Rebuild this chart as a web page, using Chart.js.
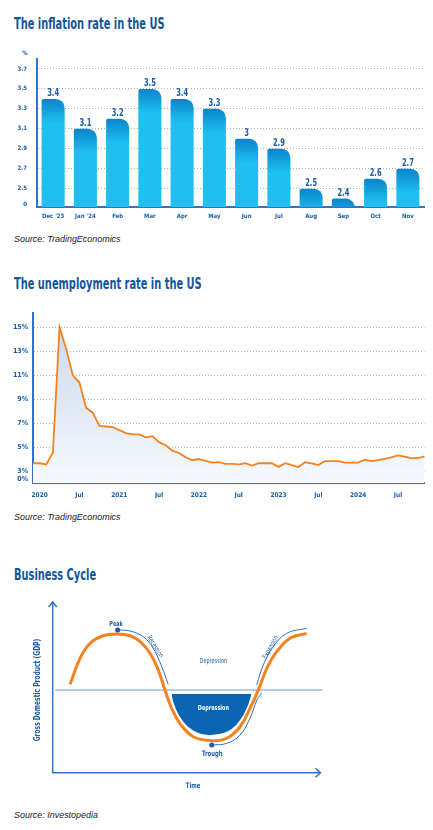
<!DOCTYPE html>
<html>
<head>
<meta charset="utf-8">
<script src="https://cdn.jsdelivr.net/npm/chart.js@4.4.1/dist/chart.umd.min.js"></script>
<style>
body { margin:0; width:433px; height:830px; background:#fff; position:relative; overflow:hidden; }
.title { position:absolute; left:14px; font-family:"Liberation Sans Narrow","DejaVu Sans Condensed",sans-serif; font-weight:bold; font-size:15px; line-height:15px; color:#13559a; white-space:nowrap; transform:scaleX(0.73); transform-origin:left top; }
.src { position:absolute; left:14px; font-family:"Liberation Sans",sans-serif; font-style:italic; font-size:9.5px; line-height:10px; color:#222; white-space:nowrap; transform:scaleX(0.94); transform-origin:left top; }
.box { position:absolute; left:0; width:433px; }
</style>
</head>
<body>
<div class="title" style="top:16.5px">The inflation rate in the US</div>
<div class="box" style="top:40px;height:190px"><canvas id="chart1"></canvas></div>
<div class="src" style="top:233.5px">Source: TradingEconomics</div>

<div class="title" style="top:276.5px">The unemployment rate in the US</div>
<div class="box" style="top:300px;height:210px"><canvas id="chart2"></canvas></div>
<div class="src" style="top:511.5px">Source: TradingEconomics</div>

<div class="title" style="top:568px">Business Cycle</div>
<div class="box" style="top:590px;height:205px"><canvas id="chart3"></canvas></div>
<div class="src" style="top:809.5px">Source: Investopedia</div>

<script>
// ---- inflation data
var inflationMonths = ["Dec '23", "Jan '24", "Feb", "Mar", "Apr", "May", "Jun", "Jul", "Aug", "Sep", "Oct", "Nov"];
var inflationRates = [3.4, 3.1, 3.2, 3.5, 3.4, 3.3, 3.0, 2.9, 2.5, 2.4, 2.6, 2.7];
var inflationTicks = [2.34, 2.5, 2.7, 2.9, 3.1, 3.3, 3.5, 3.7];
var inflationTickLabels = ["0", "2.5", "2.7", "2.9", "3.1", "3.3", "3.5", "3.7"];

// ---- unemployment data (Dec 2019 .. Nov 2024)
var unempMonths = [
  "Dec 2019",
  "Jan 2020","Feb 2020","Mar 2020","Apr 2020","May 2020","Jun 2020","Jul 2020","Aug 2020","Sep 2020","Oct 2020","Nov 2020","Dec 2020",
  "Jan 2021","Feb 2021","Mar 2021","Apr 2021","May 2021","Jun 2021","Jul 2021","Aug 2021","Sep 2021","Oct 2021","Nov 2021","Dec 2021",
  "Jan 2022","Feb 2022","Mar 2022","Apr 2022","May 2022","Jun 2022","Jul 2022","Aug 2022","Sep 2022","Oct 2022","Nov 2022","Dec 2022",
  "Jan 2023","Feb 2023","Mar 2023","Apr 2023","May 2023","Jun 2023","Jul 2023","Aug 2023","Sep 2023","Oct 2023","Nov 2023","Dec 2023",
  "Jan 2024","Feb 2024","Mar 2024","Apr 2024","May 2024","Jun 2024","Jul 2024","Aug 2024","Sep 2024","Oct 2024","Nov 2024"
];
var unempRates = [
  3.7,
  3.7, 3.6, 4.6, 15.0, 13.2, 11.0, 10.4, 8.3, 7.9, 6.8, 6.75, 6.7,
  6.45, 6.2, 6.1, 6.1, 5.85, 5.95, 5.45, 5.2, 4.75, 4.55, 4.2, 3.95,
  4.05, 3.9, 3.75, 3.8, 3.65, 3.65, 3.6, 3.7, 3.5, 3.7, 3.7, 3.7,
  3.4, 3.7, 3.55, 3.38, 3.78, 3.69, 3.55, 3.88, 3.88, 3.88, 3.75, 3.75,
  3.75, 3.99, 3.88, 3.96, 4.07, 4.19, 4.35, 4.25, 4.13, 4.13, 4.27
];
var unempTicks = [2.34, 3, 5, 7, 9, 11, 13, 15];
var unempTickLabels = ["0%", "3%", "5%", "7%", "9%", "11%", "13%", "15%"];

// ---- business cycle diagram (time 0..100, GDP 0..100)
var cycleCurve = [
  {x: 6.5, y: 52.1}, {x: 10.2, y: 67.4}, {x: 14.0, y: 76.3}, {x: 18.9, y: 80.7}, {x: 24.2, y: 81.7},
  {x: 28.9, y: 80.7}, {x: 32.7, y: 77.2}, {x: 36.4, y: 70.4}, {x: 39.5, y: 60.5}, {x: 42.0, y: 48.7},
  {x: 44.5, y: 37.9}, {x: 47.6, y: 29.1}, {x: 52.6, y: 21.2}, {x: 59.5, y: 18.9}, {x: 65.1, y: 20.3},
  {x: 70.1, y: 27.1}, {x: 73.8, y: 37.9}, {x: 76.9, y: 48.7}, {x: 80.1, y: 61.5}, {x: 83.8, y: 71.3},
  {x: 88.8, y: 79.2}, {x: 95.0, y: 82.1}
];
var recessionArc = [{x: 24.3, y: 84.1}, {x: 28.9, y: 83.5}, {x: 33.9, y: 80.1}, {x: 37.6, y: 73.3}, {x: 40.8, y: 62.5}, {x: 43.2, y: 52.1}];
var expansionArc = [{x: 76.3, y: 51.7}, {x: 78.8, y: 63.5}, {x: 82.5, y: 74.2}, {x: 87.5, y: 82.1}, {x: 95.0, y: 85.1}];
var troughArc = [{x: 59.5, y: 16.3}, {x: 65.1, y: 17.3}, {x: 70.1, y: 22.2}, {x: 73.8, y: 32.1}, {x: 76.4, y: 42.8}, {x: 78.2, y: 47.0}];
var depressionBowl = [
  {x: 44.5, y: 46.4}, {x: 45.1, y: 41.8}, {x: 47.6, y: 33.0}, {x: 51.4, y: 26.2}, {x: 56.3, y: 22.6},
  {x: 61.4, y: 22.6}, {x: 66.3, y: 25.2}, {x: 70.1, y: 31.1}, {x: 72.8, y: 38.9}, {x: 74.4, y: 46.4}
];
var depressionTop = 46.4;
var trendLine = [{x: 0.9, y: 48.7}, {x: 101, y: 48.7}];
var turningPoints = [{x: 24.3, y: 84.1}, {x: 59.5, y: 16.3}];
var cycleNotes = ["Peak", "Trough", "Depression", "Depression", "Recession", "Expansion", "Time", "Gross Domestic Product (GDP)"];

var NARROW = "'Liberation Sans Narrow', 'DejaVu Sans Condensed', sans-serif";
var BLUE_TXT = "#1a5ca6";
var AXIS_BLUE = "#2f74c8";

// gradient on every bar, darker at its top
var barGradient = {
  id: 'barGradient',
  beforeDatasetsDraw: function(chart) {
    var ctx = chart.ctx;
    chart.getDatasetMeta(0).data.forEach(function(bar) {
      var g = ctx.createLinearGradient(0, bar.y, 0, bar.y + 24);
      g.addColorStop(0, '#0a84cc');
      g.addColorStop(1, '#1ec0f0');
      bar.options.backgroundColor = g;
    });
  },
  afterDatasetsDraw: function(chart) {
    var ctx = chart.ctx;
    ctx.save();
    ctx.font = "bold 10px " + NARROW;
    ctx.fillStyle = BLUE_TXT;
    ctx.textAlign = 'center';
    ctx.textBaseline = 'alphabetic';
    chart.getDatasetMeta(0).data.forEach(function(bar, i) {
      ctx.save();
      ctx.translate(bar.x, bar.y - 2.5);
      ctx.scale(0.75, 1);
      ctx.fillText(String(inflationRates[i]), 0, 0);
      ctx.restore();
    });
    // % unit
    ctx.font = "bold 6px " + NARROW;
    ctx.fillText('%', chart.chartArea.left - 12, chart.chartArea.top - 4);
    ctx.restore();
  }
};

var chart1 = new Chart(document.getElementById('chart1'), {
  type: 'bar',
  data: {
    labels: inflationMonths,
    datasets: [{
      data: inflationRates,
      // scriptable so every bar keeps its own options object
      backgroundColor: function() { return '#1ec0f0'; },
      borderRadius: {topLeft: 2, topRight: 9, bottomLeft: 0, bottomRight: 0},
      borderSkipped: false,
      categoryPercentage: 1,
      barPercentage: 0.715
    }]
  },
  options: {
    responsive: true,
    maintainAspectRatio: false,
    animation: false,
    layout: {padding: {left: 0, right: 9, top: 19, bottom: 7}},
    plugins: {legend: {display: false}, tooltip: {enabled: false}},
    scales: {
      x: {
        grid: {display: false, drawTicks: false},
        border: {color: AXIS_BLUE, width: 2},
        ticks: {font: {family: NARROW, size: 6, weight: 'bold'}, color: BLUE_TXT, padding: 6, maxRotation: 0, autoSkip: false},
        afterFit: function(s) { s.height = 16; }
      },
      y: {
        min: 2.316,
        max: 3.8,
        afterBuildTicks: function(s) { s.ticks = inflationTicks.map(function(v) { return {value: v}; }); },
        afterFit: function(s) { s.width = 37; },
        grid: {
          drawTicks: false,
          color: function(c) { return c.tick && c.tick.value < 2.4 ? 'rgba(0,0,0,0)' : '#aab4c4'; },
          lineWidth: 1
        },
        border: {color: AXIS_BLUE, width: 2, dash: [1, 2]},
        ticks: {
          font: {family: NARROW, size: 6, weight: 'bold'},
          color: BLUE_TXT,
          padding: 10,
          autoSkip: false,
          callback: function(v, i) { return inflationTickLabels[i]; }
        }
      }
    }
  },
  plugins: [barGradient]
});

var chart2 = new Chart(document.getElementById('chart2'), {
  type: 'line',
  data: {
    labels: unempMonths,
    datasets: [{
      data: unempRates,
      borderColor: '#f5821f',
      borderWidth: 1.8,
      pointRadius: 0,
      tension: 0,
      fill: 'start',
      backgroundColor: function(c) {
        var a = c.chart.chartArea;
        if (!a) return 'rgba(205,220,240,0.6)';
        var g = c.chart.ctx.createLinearGradient(0, a.top, 0, a.bottom);
        g.addColorStop(0, '#c6d6ee');
        g.addColorStop(1, '#f7f9fd');
        return g;
      }
    }]
  },
  options: {
    responsive: true,
    maintainAspectRatio: false,
    animation: false,
    layout: {padding: {left: 0, right: 8.5, top: 12.7, bottom: 7}},
    plugins: {legend: {display: false}, tooltip: {enabled: false}},
    scales: {
      x: {
        offset: false,
        grid: {display: false, drawTicks: false},
        border: {color: AXIS_BLUE, width: 2},
        ticks: {
          font: {family: NARROW, size: 6.5, weight: 'bold'},
          color: BLUE_TXT,
          padding: 8,
          maxRotation: 0,
          autoSkip: false,
          callback: function(v, i) {
            var m = unempMonths[i];
            if (m.indexOf('Jan') === 0) return m.slice(4);
            if (m.indexOf('Jul') === 0) return 'Jul';
            return '';
          }
        },
        afterFit: function(s) { s.height = 20; }
      },
      y: {
        min: 2.06,
        max: 16.2,
        afterBuildTicks: function(s) { s.ticks = unempTicks.map(function(v) { return {value: v}; }); },
        afterFit: function(s) { s.width = 33; },
        grid: {
          drawTicks: false,
          color: function(c) { return c.tick && c.tick.value < 2.5 ? 'rgba(0,0,0,0)' : '#aab4c4'; },
          lineWidth: 1
        },
        border: {color: AXIS_BLUE, width: 2, dash: [1, 2]},
        ticks: {
          font: {family: NARROW, size: 7, weight: 'bold'},
          color: BLUE_TXT,
          padding: 5,
          autoSkip: false,
          callback: function(v, i) { return unempTickLabels[i]; }
        }
      }
    }
  }
});

// axes with arrow heads + the words on the diagram
var cycleDecor = {
  id: 'cycleDecor',
  beforeDatasetsDraw: function(chart) {
    var ctx = chart.ctx, a = chart.chartArea;
    ctx.save();
    ctx.strokeStyle = AXIS_BLUE;
    ctx.lineWidth = 1.5;
    ctx.beginPath();
    ctx.moveTo(a.left, a.top - 1);
    ctx.lineTo(a.left, a.bottom);
    ctx.lineTo(a.right, a.bottom);
    ctx.stroke();
    ctx.beginPath();
    ctx.moveTo(a.left - 4, a.top + 4);
    ctx.lineTo(a.left, a.top - 1);
    ctx.lineTo(a.left + 4, a.top + 4);
    ctx.moveTo(a.right - 4.5, a.bottom - 4.5);
    ctx.lineTo(a.right + 0.5, a.bottom);
    ctx.lineTo(a.right - 4.5, a.bottom + 4.5);
    ctx.stroke();
    ctx.restore();
  },
  afterDatasetsDraw: function(chart) {
    var ctx = chart.ctx, x = chart.scales.x, y = chart.scales.y;
    // where each note sits, in data units, with its angle
    var spots = [
      [23.7, 87.6, 0, 'bold 7px', BLUE_TXT],
      [59.7, 10.8, 0, 'bold 7.5px', BLUE_TXT],
      [60.1, 65.8, 0, '7px', BLUE_TXT],
      [60.1, 37.9, 0, 'bold 7px', '#ffffff'],
      [38.3, 74.2, 58, '7px', BLUE_TXT],
      [81.6, 73.9, -61, '7px', BLUE_TXT],
      [52.5, -7.7, 0, 'bold 7.5px', BLUE_TXT],
      [-5.4, 48.7, -90, 'bold 8.5px', BLUE_TXT]
    ];
    ctx.save();
    ctx.textAlign = 'center';
    ctx.textBaseline = 'middle';
    cycleNotes.forEach(function(t, i) {
      var s = spots[i];
      ctx.save();
      ctx.translate(x.getPixelForValue(s[0]), y.getPixelForValue(s[1]));
      ctx.rotate(s[2] * Math.PI / 180);
      ctx.scale(0.78, 1);
      ctx.font = s[3] + ' ' + NARROW;
      ctx.fillStyle = s[4];
      ctx.fillText(t, 0, 0);
      ctx.restore();
    });
    ctx.restore();
  }
};

var chart3 = new Chart(document.getElementById('chart3'), {
  type: 'line',
  data: {
    datasets: [
      {data: turningPoints, showLine: false, pointRadius: 2.5, pointBackgroundColor: BLUE_TXT, pointBorderWidth: 0, order: 0},
      {data: cycleCurve, borderColor: '#f5821f', borderWidth: 3, pointRadius: 0, tension: 0.4, order: 1},
      {data: recessionArc, borderColor: '#2f6fc4', borderWidth: 1, pointRadius: 0, tension: 0.4, order: 2},
      {data: expansionArc, borderColor: '#2f6fc4', borderWidth: 1, pointRadius: 0, tension: 0.4, order: 2},
      {data: troughArc, borderColor: '#2f6fc4', borderWidth: 1, pointRadius: 0, tension: 0.4, order: 2},
      {data: trendLine, borderColor: '#6a98d8', borderWidth: 1, pointRadius: 0, clip: false, order: 3},
      {data: depressionBowl, borderColor: '#0a64b2', borderWidth: 0, backgroundColor: '#0a64b2', pointRadius: 0, tension: 0.4, fill: {value: depressionTop}, order: 4}
    ]
  },
  options: {
    responsive: true,
    maintainAspectRatio: false,
    animation: false,
    layout: {padding: {left: 52.7, right: 113, top: 13, bottom: 22.3}},
    plugins: {legend: {display: false}, tooltip: {enabled: false}},
    scales: {
      x: {type: 'linear', min: 0, max: 100, display: false},
      y: {type: 'linear', min: 0, max: 100, display: false}
    }
  },
  plugins: [cycleDecor]
});
</script>
</body>
</html>
